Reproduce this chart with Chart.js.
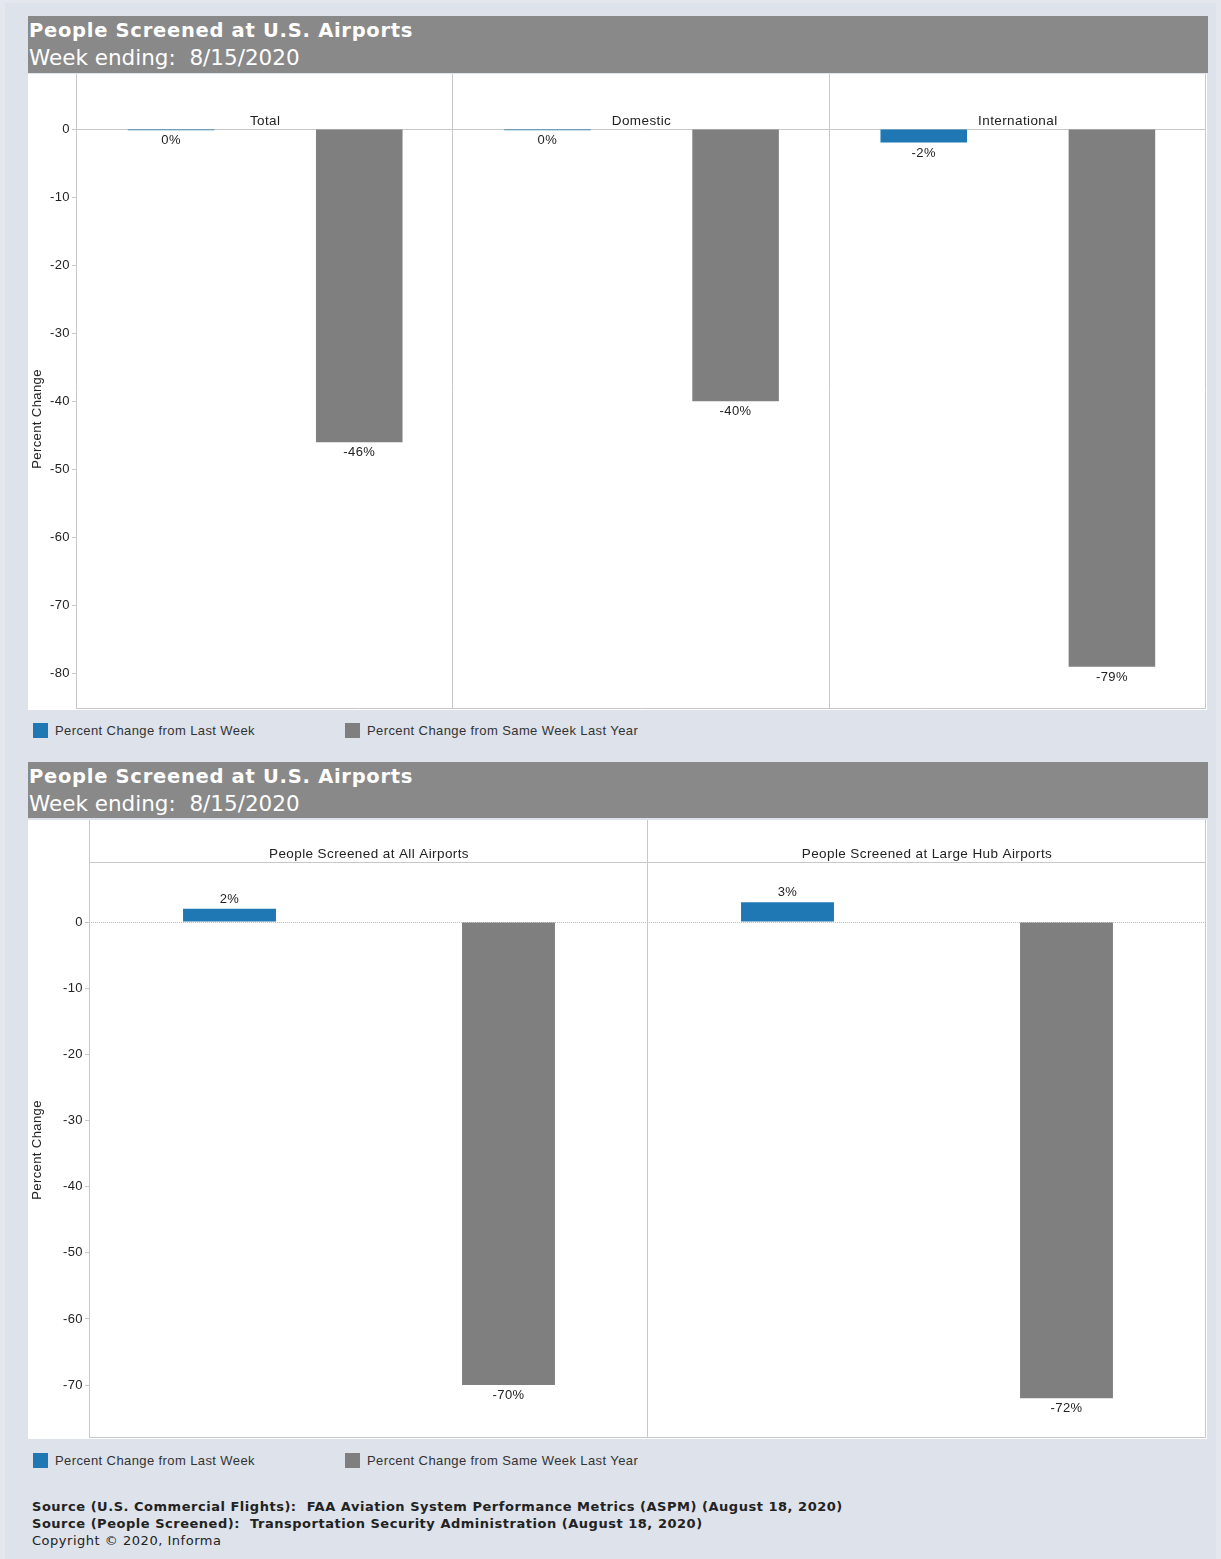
<!DOCTYPE html>
<html>
<head>
<meta charset="utf-8">
<script src="https://cdn.jsdelivr.net/npm/chart.js@4.4.1/dist/chart.umd.min.js"></script>
<style>
html,body{margin:0;padding:0;}
body{width:1221px;height:1559px;background:#e4e7ee;position:relative;overflow:hidden;font-family:"Liberation Sans",Arial,sans-serif;}
#inner{position:absolute;left:5px;top:3px;width:1211px;height:1556px;background:#dde2eb;}
.hdr{position:absolute;left:28px;width:1180px;height:57px;background:#898989;color:#fff;font-family:"DejaVu Sans",Verdana,sans-serif;}
.hdr .t{position:absolute;left:1px;top:5px;font-weight:bold;font-size:19.5px;line-height:20px;letter-spacing:0.72px;white-space:pre;}
.hdr .s{position:absolute;left:1px;top:31px;font-size:21.5px;line-height:21px;white-space:pre;}
.panel{position:absolute;left:28px;width:1179px;background:#fff;}
.panel canvas{display:block;}
.leg{position:absolute;left:33px;height:16px;font-size:13px;letter-spacing:0.4px;color:#333;}
.leg .it{position:absolute;top:0;white-space:nowrap;}
.leg .sw{position:absolute;top:0;width:15px;height:15px;}
.leg .tx{position:absolute;top:0;line-height:16px;}
#foot{position:absolute;left:32px;top:1498px;font-family:"DejaVu Sans",Verdana,sans-serif;font-size:13px;line-height:17px;color:#222;letter-spacing:0.52px;white-space:pre;}
#foot b{font-weight:bold;}
</style>
</head>
<body>
<div id="inner"></div>

<div class="hdr" style="top:16px;"><div class="t">People Screened at U.S. Airports</div><div class="s">Week ending:  8/15/2020</div></div>
<div class="panel" style="top:74px;height:636px;"><canvas id="c1" width="1179" height="636"></canvas></div>
<div class="leg" id="leg1" style="top:723px;"></div>

<div class="hdr" style="top:762px;height:56px;"><div class="t">People Screened at U.S. Airports</div><div class="s">Week ending:  8/15/2020</div></div>
<div class="panel" style="top:820px;height:619px;"><canvas id="c2" width="1179" height="619"></canvas></div>
<div class="leg" id="leg2" style="top:1453px;"></div>

<div id="foot"><b>Source (U.S. Commercial Flights):  FAA Aviation System Performance Metrics (ASPM) (August 18, 2020)</b>
<b>Source (People Screened):  Transportation Security Administration (August 18, 2020)</b>
Copyright © 2020, Informa</div>

<script>
// ---- data ----
const seriesNames = ["Percent Change from Last Week", "Percent Change from Same Week Last Year"];
const seriesColors = ["#1f77b4", "#7f7f7f"];

const facets1 = ["Total", "Domestic", "International"];
const lastWeek1 = [-0.2, -0.2, -2];
const lastYear1 = [-46, -40, -79];

const facets2 = ["People Screened at All Airports", "People Screened at Large Hub Airports"];
const lastWeek2 = [2, 3];
const lastYear2 = [-70, -72];

const axisTitle = "Percent Change";

// ---- legends ----
function buildLegend(id) {
  const el = document.getElementById(id);
  const offs = [0, 312];
  seriesNames.forEach((n, i) => {
    const it = document.createElement('div');
    it.className = 'it';
    it.style.left = offs[i] + 'px';
    it.innerHTML = '<div class="sw" style="background:' + seriesColors[i] + '"></div><div class="tx" style="left:22px">' + n + '</div>';
    el.appendChild(it);
  });
}
buildLegend('leg1');
buildLegend('leg2');

const LINE = '#c8c8c8';
const TXT = '#222';

const facetPlugin = {
  id: 'facets',
  beforeDraw(chart) {
    chart.ctx.letterSpacing = '0.4px';
  },
  beforeDatasetsDraw(chart, args, opts) {
    const ctx = chart.ctx, ca = chart.chartArea, xs = chart.scales.x, ys = chart.scales.y;
    const n = chart.data.labels.length;
    const half = (xs.getPixelForValue(1) - xs.getPixelForValue(0)) / 2;
    ctx.save();
    ctx.strokeStyle = LINE;
    ctx.lineWidth = 1;
    ctx.beginPath();
    for (let i = 0; i <= n; i++) {
      let x = (i < n ? xs.getPixelForValue(i) - half : xs.getPixelForValue(n - 1) + half);
      x = Math.round(x) - 0.5;
      ctx.moveTo(x, 0);
      ctx.lineTo(x, ca.bottom);
    }
    const yt = Math.round(ca.top) + 0.5;
    ctx.moveTo(ca.left, yt); ctx.lineTo(ca.right, yt);
    const yb = Math.round(ca.bottom) - 0.5;
    ctx.moveTo(ca.left, yb); ctx.lineTo(ca.right, yb);
    ctx.stroke();
    if (opts.dottedZero) {
      const y0 = Math.round(ys.getPixelForValue(0)) + 0.5;
      ctx.setLineDash([1, 1]);
      ctx.strokeStyle = '#bdbdbd';
      ctx.beginPath();
      ctx.moveTo(ca.left - 5, y0); ctx.lineTo(ca.right, y0);
      ctx.stroke();
      ctx.setLineDash([]);
    }
    ctx.fillStyle = TXT;
    ctx.font = '13.5px "Liberation Sans", Arial, sans-serif';
    ctx.textAlign = 'center';
    ctx.textBaseline = 'middle';
    chart.data.labels.forEach((l, i) => {
      ctx.fillText(l, xs.getPixelForValue(i), ca.top - 8);
    });
    ctx.restore();
  },
  afterDatasetsDraw(chart) {
    const ctx = chart.ctx;
    ctx.save();
    ctx.fillStyle = TXT;
    ctx.font = '13px "Liberation Sans", Arial, sans-serif';
    ctx.textAlign = 'center';
    chart.data.datasets.forEach((ds, di) => {
      const meta = chart.getDatasetMeta(di);
      meta.data.forEach((bar, i) => {
        const v = ds.data[i];
        const r = Math.round(v);
        const txt = (r === 0 ? 0 : r) + '%';
        if (v > 0) {
          ctx.textBaseline = 'bottom';
          ctx.fillText(txt, bar.x, bar.y - 3);
        } else {
          ctx.textBaseline = 'top';
          ctx.fillText(txt, bar.x, bar.y + 4);
        }
      });
    });
    ctx.restore();
  }
};

function makeChart(id, labels, lw, ly, opt) {
  return new Chart(document.getElementById(id), {
    type: 'bar',
    data: {
      labels: labels,
      datasets: [
        { label: seriesNames[0], data: lw, backgroundColor: seriesColors[0], categoryPercentage: 1.0, barPercentage: opt.barPct },
        { label: seriesNames[1], data: ly, backgroundColor: seriesColors[1], categoryPercentage: 1.0, barPercentage: opt.barPct }
      ]
    },
    options: {
      responsive: false,
      devicePixelRatio: 1,
      animation: false,
      events: [],
      layout: { padding: { top: opt.top, right: 1, bottom: 1, left: 0 } },
      plugins: {
        legend: { display: false },
        tooltip: { enabled: false },
        facets: { dottedZero: opt.dottedZero }
      },
      scales: {
        x: { type: 'category', display: false, offset: true },
        y: {
          min: opt.min, max: opt.max,
          afterFit: s => { s.width = opt.axisW; s.paddingTop = 0; s.paddingBottom = 0; },
          border: { display: false },
          grid: { drawOnChartArea: false, drawTicks: true, tickLength: 5, color: LINE },
          ticks: { stepSize: 10, includeBounds: false, padding: 2, color: TXT, font: { family: '"Liberation Sans", Arial, sans-serif', size: 13 } },
          title: { display: true, text: axisTitle, color: TXT, padding: { top: 2, bottom: 0 }, font: { family: '"Liberation Sans", Arial, sans-serif', size: 13 } }
        }
      }
    },
    plugins: [facetPlugin]
  });
}

makeChart('c1', facets1, lastWeek1, lastYear1, { barPct: 0.46, top: 55, min: -85.2, max: 0, axisW: 49, dottedZero: false });
makeChart('c2', facets2, lastWeek2, lastYear2, { barPct: 0.333, top: 42, min: -78.0, max: 9.07, axisW: 62, dottedZero: true });
</script>
</body>
</html>
